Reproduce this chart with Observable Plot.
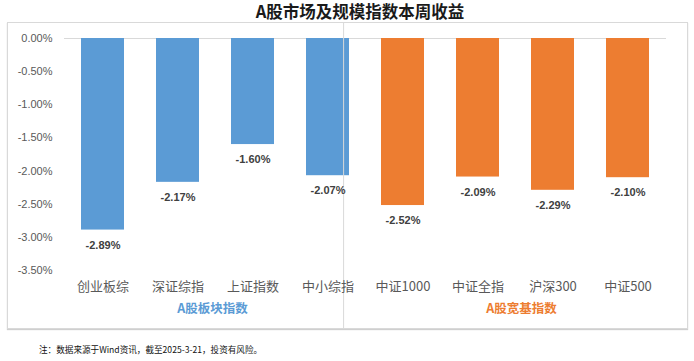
<!DOCTYPE html>
<html>
<head>
<meta charset="utf-8">
<script src="https://cdn.jsdelivr.net/npm/d3@7"></script>
<script src="https://cdn.jsdelivr.net/npm/@observablehq/plot@0.6"></script>
<style>
  html, body { margin: 0; padding: 0; background: #fff; }
  #page { position: relative; width: 694px; height: 361px; overflow: hidden; font-family: "Noto Sans CJK SC", sans-serif; }
  #title { position: absolute; top: 0px; left: 360px; transform: translateX(-50%); white-space: nowrap;
           font: bold 16.5px "Noto Sans CJK SC", sans-serif; color: #1a1a1a; line-height: 23px; }
  #frame { position: absolute; left: 7px; top: 22px; width: 681px; height: 307px; box-sizing: border-box;
           border: 1px solid #d9d9d9; box-shadow: 0 1px 1px #cfcfcf; }
  #chart { position: absolute; left: 0; top: 22px; }
  #note { position: absolute; left: 39px; top: 343px; font: 8.6px "Noto Sans CJK SC", sans-serif; color: #111; white-space: nowrap; }
</style>
</head>
<body>
<div id="page">
  <div id="title"></div>
  <div id="frame"></div>
  <div id="chart"></div>
  <div id="note"></div>
</div>
<script>
const titleText = "A股市场及规模指数本周收益";
const noteText = "注：数据来源于Wind资讯，截至2025-3-21，投资有风险。";
const categories = ["创业板综", "深证综指", "上证指数", "中小综指", "中证1000", "中证全指", "沪深300", "中证500"];
const values = [-2.89, -2.17, -1.60, -2.07, -2.52, -2.09, -2.29, -2.10];
const groups = ["A股板块指数", "A股板块指数", "A股板块指数", "A股板块指数", "A股宽基指数", "A股宽基指数", "A股宽基指数", "A股宽基指数"];
const groupNames = ["A股板块指数", "A股宽基指数"];
const groupColors = ["#5B9BD5", "#ED7D31"];
const yTicks = [0, -0.5, -1, -1.5, -2, -2.5, -3, -3.5];

document.getElementById("title").textContent = titleText;
document.getElementById("note").textContent = noteText;

const data = categories.map((c, i) => ({cat: c, value: values[i], group: groups[i]}));
const fmt = v => v.toFixed(2) + "%";

const chart = Plot.plot({
  width: 694,
  height: 308,
  marginLeft: 64,
  marginRight: 28,
  marginTop: 16,
  marginBottom: 60,
  style: {background: "transparent", overflow: "visible"},
  x: {domain: categories, paddingInner: 0.43, paddingOuter: 0.215, axis: null, label: null},
  y: {domain: [-3.5, 0], axis: null, label: null},
  color: {domain: groupNames, range: groupColors},
  marks: [
    Plot.ruleY([0], {stroke: "#d9d9d9", strokeWidth: 1.2}),
    Plot.barY(data, {x: "cat", y: "value", fill: "group"}),
    Plot.ruleX([categories[3]], {dx: 15.6, insetTop: -15, insetBottom: -58, stroke: "#d9d9d9"}),
    Plot.axisY(yTicks, {label: null, tickSize: 0, tickPadding: 12, tickFormat: fmt, fontSize: 11,
      fontFamily: "Liberation Sans, Arial, sans-serif", fill: "#595959"}),
    Plot.axisX(categories, {label: null, tickSize: 0, tickPadding: 11, fontSize: 13,
      fontFamily: "Noto Sans CJK SC, sans-serif", fill: "#595959"}),
    Plot.text(data, {x: "cat", y: "value", text: d => fmt(d.value), dy: 15, fontSize: 11, fontWeight: "bold",
      fontFamily: "Liberation Sans, Arial, sans-serif", fill: "#404040"}),
    Plot.text([groupNames[0]], {x: [categories[1]], text: d => d, frameAnchor: "bottom", dx: 34.5, dy: 42,
      fontSize: 12.5, fontWeight: "bold", fontFamily: "Noto Sans CJK SC, sans-serif", fill: groupColors[0]}),
    Plot.text([groupNames[1]], {x: [categories[5]], text: d => d, frameAnchor: "bottom", dx: 43.5, dy: 42,
      fontSize: 12.5, fontWeight: "bold", fontFamily: "Noto Sans CJK SC, sans-serif", fill: groupColors[1]})
  ]
});
document.getElementById("chart").appendChild(chart);
</script>
</body>
</html>
